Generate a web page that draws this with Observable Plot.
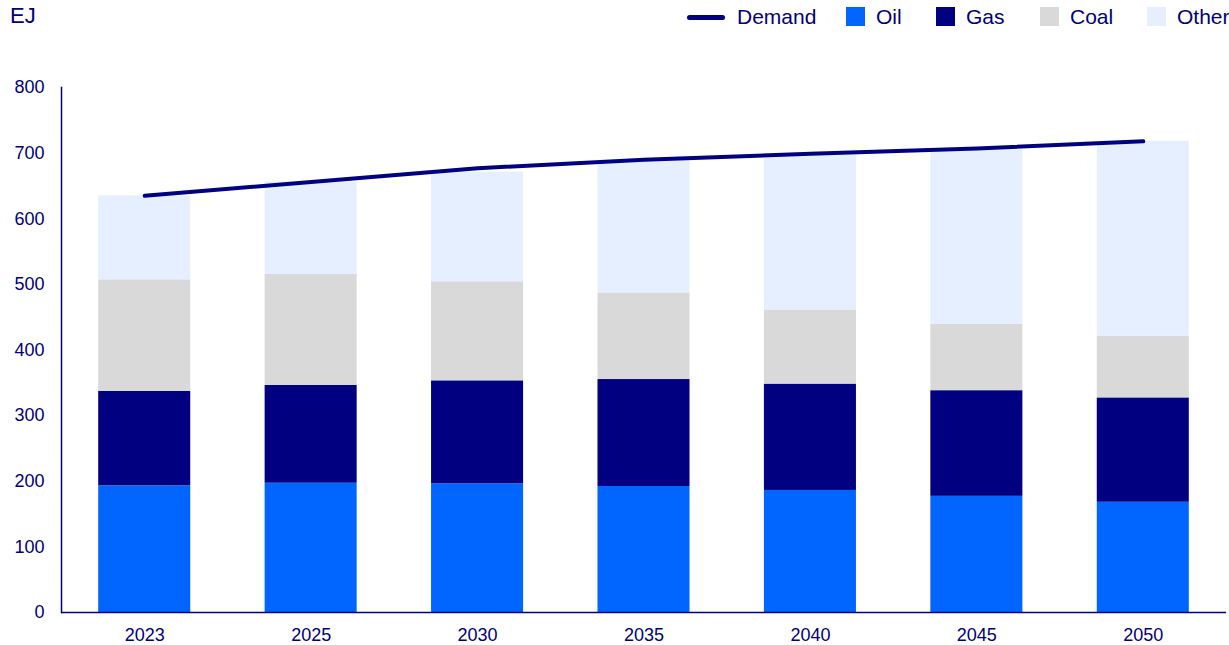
<!DOCTYPE html>
<html>
<head>
<meta charset="utf-8">
<script src="https://cdn.jsdelivr.net/npm/d3@7"></script>
<script src="https://cdn.jsdelivr.net/npm/@observablehq/plot@0.6"></script>
<style>
  html, body { margin: 0; padding: 0; background: #fff; }
  body { width: 1229px; height: 645px; position: relative; overflow: hidden; font-family: "Liberation Sans", Arial, sans-serif; color: #000080; }
  #unit { position: absolute; left: 10px; top: 3px; font-size: 22px; }
  #legend { position: absolute; left: 0; top: 0; width: 1229px; height: 36px; }
  .li { position: absolute; top: 5px; font-size: 21px; line-height: 24px; white-space: nowrap; }
  .sw { position: absolute; top: 7px; width: 19px; height: 19px; }
  .ln { position: absolute; top: 14.5px; width: 38px; height: 5px; border-radius: 3px; background: #000080; }
  #chart { position: absolute; left: 0; top: 40px; }
</style>
</head>
<body>
<div id="unit">EJ</div>
<div id="legend"></div>
<div id="chart"></div>
<script>
const years = ["2023", "2025", "2030", "2035", "2040", "2045", "2050"];
const seriesNames = ["Oil", "Gas", "Coal", "Other"];
const seriesColors = ["#0066ff", "#000080", "#d9d9d9", "#e6efff"];
const oil   = [193, 197, 196, 192, 186, 177, 168];
const gas   = [144, 149, 157, 163, 162, 161, 159];
const coal  = [170, 169, 151, 132, 113, 101, 94];
const other = [128, 141, 167, 202, 236, 266, 297];
const demand = [635, 656, 677, 690, 699, 707, 718];
const yTicks = [0, 100, 200, 300, 400, 500, 600, 700, 800];

const navy = "#000080";
const seriesValues = { Oil: oil, Gas: gas, Coal: coal, Other: other };
const rows = [];
seriesNames.forEach(s => years.forEach((y, i) => rows.push({ year: y, series: s, value: seriesValues[s][i] })));
const demandRows = years.map((y, i) => ({ year: y, value: demand[i] }));

// Legend (HTML)
const legend = document.getElementById("legend");
const items = [
  { type: "line", x: 687, tx: 737, label: "Demand" },
  { type: "sw", x: 846, tx: 876, label: "Oil", color: seriesColors[0] },
  { type: "sw", x: 936, tx: 966, label: "Gas", color: seriesColors[1] },
  { type: "sw", x: 1040, tx: 1070, label: "Coal", color: seriesColors[2] },
  { type: "sw", x: 1147, tx: 1177, label: "Other", color: seriesColors[3] }
];
items.forEach(it => {
  const m = document.createElement("div");
  m.className = it.type === "line" ? "ln" : "sw";
  m.style.left = it.x + "px";
  if (it.color) m.style.background = it.color;
  legend.appendChild(m);
  const t = document.createElement("div");
  t.className = "li";
  t.style.left = it.tx + "px";
  t.textContent = it.label;
  legend.appendChild(t);
});

const chart = Plot.plot({
  width: 1229,
  height: 605,
  marginTop: 47,
  marginBottom: 33,
  marginLeft: 61,
  marginRight: 3,
  style: { fontFamily: "'Liberation Sans', Arial, sans-serif", color: navy, background: "#fff" },
  x: { domain: years, paddingInner: 0.447, paddingOuter: 0.2235, round: false, label: null },
  y: { domain: [0, 800], label: null },
  color: { domain: seriesNames, range: seriesColors },
  marks: [
    Plot.barY(rows, { x: "year", y: "value", fill: "series", order: seriesNames }),
    Plot.line(demandRows, { x: "year", y: "value", stroke: navy, strokeWidth: 4, strokeLinecap: "round" }),
    Plot.axisY({ ticks: yTicks, tickSize: 0, tickPadding: 17, fontSize: 18, label: null }),
    Plot.axisX({ tickSize: 0, tickPadding: 16, fontSize: 18, label: null }),
    Plot.frame({ anchor: "left", stroke: navy, strokeWidth: 1.5 }),
    Plot.ruleY([0], { stroke: navy, strokeWidth: 1.5 })
  ]
});
document.getElementById("chart").appendChild(chart);
</script>
</body>
</html>
